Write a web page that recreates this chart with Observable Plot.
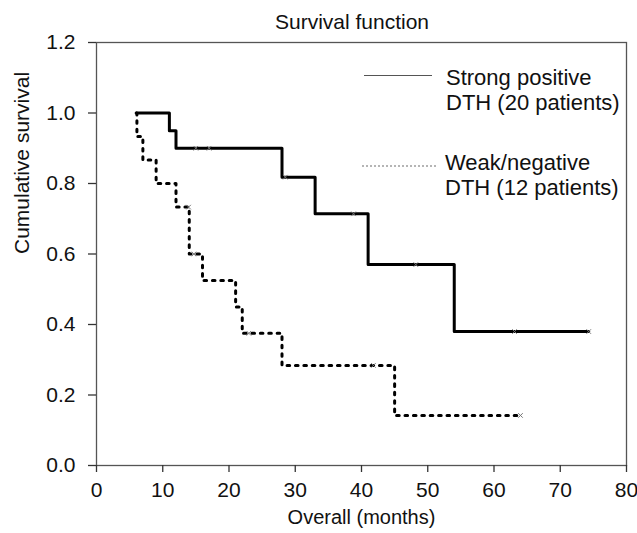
<!DOCTYPE html>
<html><head><meta charset="utf-8">
<script src="https://cdn.jsdelivr.net/npm/d3@7"></script>
<script src="https://cdn.jsdelivr.net/npm/@observablehq/plot@0.6"></script>
<style>
body{margin:0;background:#fff;font-family:"Liberation Sans",Arial,Helvetica,sans-serif;color:#111;}
#wrap{position:relative;width:637px;height:533px;overflow:hidden;}
#title{position:absolute;left:96px;top:11px;width:512px;padding-right:18px;text-align:center;font-size:21px;line-height:22px;}
#chart{position:absolute;left:0;top:30px;}
.lg{position:absolute;font-size:22px;line-height:25px;white-space:nowrap;}
.sw{position:absolute;height:0;}
</style></head><body>
<div id="wrap">
  <div id="title">Survival function</div>
  <div id="chart"></div>
  <div class="sw" style="left:364px;top:75px;width:68px;border-top:1.5px solid #555;"></div>
  <div class="lg" id="lg1" style="left:446px;top:65px;"></div>
  <div class="sw" style="left:362px;top:165px;width:74px;border-top:2px dotted #b5b5b5;"></div>
  <div class="lg" id="lg2" style="left:445px;top:150px;"></div>
</div>
<script>
// Strong positive DTH (20 patients)
const strongTime = [6, 11, 12, 28, 33, 41, 54, 74.3];
const strongSurv = [1.0, 0.95, 0.90, 0.818, 0.714, 0.57, 0.38, 0.38];
const strongCensT = [15, 17, 28.5, 38.8, 48.2, 63.1, 74.3];
const strongCensS = [0.90, 0.90, 0.818, 0.714, 0.57, 0.38, 0.38];
// Weak/negative DTH (12 patients)
const weakTime = [6, 6.1, 7, 9, 12, 14, 16, 21, 22, 28, 45, 64];
const weakSurv = [1.0, 0.933, 0.867, 0.80, 0.733, 0.60, 0.525, 0.45, 0.375, 0.284, 0.142, 0.142];
const weakCensT = [13.9, 14.7, 23, 41.8, 64];
const weakCensS = [0.733, 0.60, 0.375, 0.284, 0.142];

const xTicks = [0, 10, 20, 30, 40, 50, 60, 70, 80];
const yTicks = [0, 0.2, 0.4, 0.6, 0.8, 1.0, 1.2];
const legendLabels = [["Strong positive", "DTH (20 patients)"], ["Weak/negative", "DTH (12 patients)"]];
const xLabel = "Overall (months)";
const yLabel = "Cumulative survival";

document.getElementById("lg1").innerHTML = legendLabels[0].join("<br>");
document.getElementById("lg2").innerHTML = legendLabels[1].join("<br>");

const strong = strongTime.map((t, i) => ({t, s: strongSurv[i]}));
const weak = weakTime.map((t, i) => ({t, s: weakSurv[i]}));
const cens = strongCensT.map((t, i) => ({t, s: strongCensS[i]}))
  .concat(weakCensT.map((t, i) => ({t, s: weakCensS[i]})));

const chart = Plot.plot({
  width: 637, height: 503,
  marginLeft: 96, marginRight: 11, marginTop: 12, marginBottom: 68,
  style: {fontFamily: "'Liberation Sans', Arial, Helvetica, sans-serif", fontSize: "21px", color: "#111", background: "transparent", overflow: "visible"},
  x: {domain: [0, 80]},
  y: {domain: [0, 1.2]},
  marks: [
    Plot.frame({stroke: "#555", strokeWidth: 1.3}),
    Plot.axisX({ticks: xTicks, tickSize: 7, tickPadding: 10, label: null, stroke: "#333", strokeWidth: 1.3, fontSize: 21}),
    Plot.axisY({ticks: yTicks, tickSize: 8, tickPadding: 13, tickFormat: d => d.toFixed(1), label: null, stroke: "#333", strokeWidth: 1.3, fontSize: 21}),
    Plot.text([xLabel], {frameAnchor: "bottom", dy: 58, fontSize: 20, fill: "#111"}),
    Plot.text([yLabel], {frameAnchor: "left", dx: -74, rotate: -90, fontSize: 21, fill: "#111"}),
    Plot.line(weak, {x: "t", y: "s", curve: "step-after", stroke: "#000", strokeWidth: 3, strokeDasharray: "2.6,5.8"}),
    Plot.line(strong, {x: "t", y: "s", curve: "step-after", stroke: "#000", strokeWidth: 3}),
    Plot.dot(cens, {x: "t", y: "s", symbol: "times", r: 2.2, stroke: "#777", strokeWidth: 1})
  ]
});
document.getElementById("chart").appendChild(chart);
</script>
</body></html>
